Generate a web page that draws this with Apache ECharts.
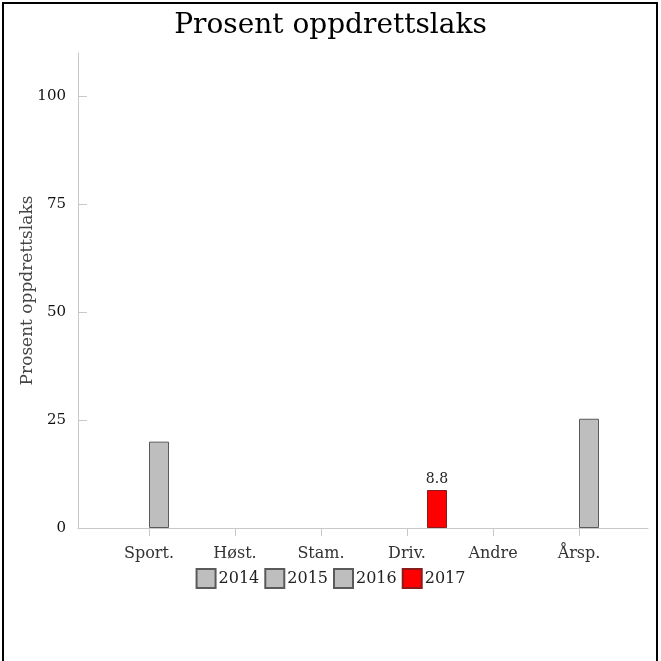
<!DOCTYPE html>
<html>
<head>
<meta charset="utf-8">
<script src="https://cdn.jsdelivr.net/npm/echarts@6/dist/echarts.min.js"></script>
<style>
html,body{margin:0;padding:0;background:#fff;}
#c{position:absolute;left:0;top:0;width:661px;height:661px;}
#frame{position:absolute;left:2px;top:2px;width:652px;height:700px;border:2px solid #000;pointer-events:none;}
</style>
</head>
<body>
<div id="c"></div>
<div id="frame"></div>
<script>
const titleText = "Prosent oppdrettslaks";
const yName = "Prosent oppdrettslaks";
const categories = ["Sport.", "Høst.", "Stam.", "Driv.", "Andre", "Årsp."];
const seriesNames = ["2014", "2015", "2016", "2017"];
const v2014 = [null, null, null, null, null, null];
const v2015 = [null, null, null, null, null, null];
const v2016 = [20, null, null, null, null, 25.3];
const v2017 = [null, null, null, 8.8, null, null];
const yTicks = [0, 25, 50, 75, 100];
const yMax = 110;

const FONT = "DejaVu Serif";
const grey = "#bebebe", greyBorder = "#5a5a5a";
const red = "#ff0000", redBorder = "#8b1a1a";
const allValues = [v2014, v2015, v2016, v2017];
const colors = [grey, grey, grey, red];
const borders = [greyBorder, greyBorder, greyBorder, redBorder];

const chart = echarts.init(document.getElementById('c'));
chart.setOption({
  animation: false,
  backgroundColor: '#fff',
  textStyle: {fontFamily: FONT},
  title: {
    text: titleText, left: 'center', top: 7,
    textStyle: {fontFamily: FONT, fontSize: 28, fontWeight: 'normal', color: '#000'}
  },
  legend: {
    data: seriesNames, top: 563, left: 'center',
    itemWidth: 19, itemHeight: 19, itemGap: 5,
    icon: 'rect',
    textStyle: {fontFamily: FONT, fontSize: 16, color: '#222', padding: [0,0,0,-2]}
  },
  grid: [
    {left: 78, right: 13, top: 53, bottom: 133},
    {left: 106, right: 39, top: 53, bottom: 133}
  ],
  xAxis: [
    {type: 'category', gridIndex: 0, data: categories, boundaryGap: true,
     axisLine: {show: true, lineStyle: {color: '#c8c8c8', width: 1}},
     axisTick: {show: false}, axisLabel: {show: false}, splitLine: {show: false}},
    {type: 'category', gridIndex: 1, data: categories, boundaryGap: true,
     axisLine: {show: false},
     axisTick: {show: true, alignWithLabel: true, length: 8, lineStyle: {color: '#c8c8c8'}},
     axisLabel: {fontFamily: FONT, fontSize: 16, color: '#333', margin: 18},
     splitLine: {show: false}}
  ],
  yAxis: [
    {type: 'value', gridIndex: 0, min: 0, max: yMax, interval: 25,
     name: yName, nameLocation: 'middle', nameGap: 42, nameMoveOverlap: false,
     nameTextStyle: {fontFamily: FONT, fontSize: 17, color: '#444'},
     axisLine: {show: true, lineStyle: {color: '#c8c8c8', width: 1}},
     axisTick: {show: true, inside: true, length: 9, customValues: yTicks, lineStyle: {color: '#c8c8c8'}},
     axisLabel: {fontFamily: FONT, fontSize: 15, color: '#111', margin: 12, customValues: yTicks},
     splitLine: {show: false}},
    {type: 'value', gridIndex: 1, min: 0, max: yMax, interval: 25, show: false, splitLine: {show: false}}
  ],
  series: seriesNames.map((n, i) => ({
    name: n, type: 'bar', xAxisIndex: 1, yAxisIndex: 1,
    data: allValues[i], barWidth: 20, barGap: '0%',
    itemStyle: {color: colors[i], borderColor: borders[i], borderWidth: 1},
    label: {show: i === 3, position: 'top', distance: 4, fontFamily: FONT, fontSize: 14, color: '#222',
            formatter: p => (p.value == null ? '' : String(p.value))}
  }))
});
</script>
</body>
</html>
